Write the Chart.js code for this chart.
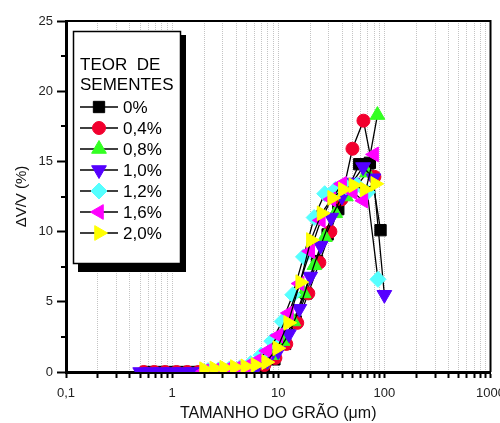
<!DOCTYPE html>
<html>
<head>
<meta charset="utf-8">
<script src="https://cdn.jsdelivr.net/npm/chart.js"></script>
<style>
  html, body { margin: 0; padding: 0; background: #fff; }
  #wrap { width: 500px; height: 423px; }
</style>
</head>
<body>
<div id="wrap"><canvas id="grainChart" width="500" height="423"></canvas></div>
<script>
const seriesNames = ['0%', '0,4%', '0,8%', '1,0%', '1,2%', '1,6%', '2,0%'];

const x0 = [0.58, 0.73, 0.92, 1.16, 1.46, 1.84, 2.3, 2.9, 3.7, 4.6, 5.8, 7.3, 9.2, 11.6, 14.6, 18.4, 23.2, 29.2, 36.8, 46.4, 58, 73, 92];
const y0 = [0, 0, 0, 0, 0, 0, 0, 0, 0, 0.05, 0.15, 0.4, 0.9, 2.0, 3.6, 5.6, 7.9, 9.8, 11.6, 13.2, 14.8, 14.9, 10.1];

const x04 = [0.54, 0.68, 0.86, 1.1, 1.39, 1.77, 2.25, 2.8, 3.6, 4.6, 5.8, 7.4, 9.4, 11.9, 15.1, 19.2, 24.4, 31, 39.4, 50, 63.5, 80.6];
const y04 = [0, 0, 0, 0, 0, 0, 0, 0, 0.05, 0.1, 0.2, 0.5, 1.0, 2.0, 3.5, 5.6, 7.8, 10.0, 12.3, 15.9, 17.9, 13.9];

const x08 = [2.2, 2.8, 3.5, 4.4, 5.6, 7, 8.8, 11, 13.9, 17.4, 21.9, 27.5, 34.5, 43.4, 54.5, 68.5, 86];
const y08 = [0, 0.05, 0.1, 0.15, 0.3, 0.6, 1.2, 2.2, 3.6, 5.6, 7.6, 9.6, 11.3, 12.5, 13.2, 14.2, 18.3];

const x10 = [0.5, 0.63, 0.79, 1.0, 1.26, 1.58, 2.0, 2.5, 3.2, 4, 5, 6.3, 7.9, 10, 12.6, 15.8, 20, 25.1, 31.6, 39.8, 50, 63, 79, 100];
const y10 = [0, 0, 0, 0, 0, 0, 0, 0, 0.05, 0.1, 0.2, 0.4, 0.8, 1.5, 2.7, 4.5, 6.8, 9.0, 11.0, 12.5, 13.5, 14.6, 13.8, 5.5];

const x12 = [2.18, 2.74, 3.45, 4.35, 5.5, 6.9, 8.7, 10.9, 13.7, 17.3, 21.8, 27.4, 34.5, 43.5, 55, 69, 87];
const y12 = [0.1, 0.15, 0.2, 0.3, 0.6, 1.2, 2.2, 3.6, 5.5, 8.2, 11.0, 12.7, 13.0, 13.2, 13.3, 12.8, 6.6];

const x16 = [2.0, 2.5, 3.2, 4, 5, 6.3, 7.9, 10, 12.6, 15.9, 20, 25.2, 31.7, 40, 50.4, 63.5, 80];
const y16 = [0.05, 0.1, 0.15, 0.25, 0.4, 0.8, 1.5, 2.6, 4.2, 6.3, 8.6, 10.8, 12.3, 13.4, 12.8, 12.2, 15.5];

const x20 = [2.0, 2.5, 3.1, 3.9, 4.9, 6.1, 7.7, 9.8, 12.4, 16.1, 20.3, 25.6, 32.2, 40.6, 51, 65, 82];
const y20 = [0.2, 0.25, 0.3, 0.35, 0.4, 0.5, 0.7, 1.7, 3.5, 6.4, 9.4, 11.3, 12.4, 13.0, 13.3, 13.0, 13.4];

const xMajorTicks = [0.1, 1, 10, 100, 1000];
const xTickLabels = ['0,1', '1', '10', '100', '1000'];
const yMajorTicks = [0, 5, 10, 15, 20, 25];

const FONT = "'Liberation Sans', Arial, sans-serif";

const styles = [
  { color: '#000000', pointStyle: 'rect', radius: 8, rotation: 0 },
  { color: '#f2002e', pointStyle: 'circle', radius: 6.5, rotation: 0 },
  { color: '#33ff22', pointStyle: 'triangle', radius: 8.5, rotation: 0 },
  { color: '#5500ff', pointStyle: 'triangle', radius: 8.5, rotation: 180 },
  { color: '#55ffff', pointStyle: 'rectRot', radius: 8, rotation: 0 },
  { color: '#ff00ff', pointStyle: 'triangle', radius: 8.5, rotation: -90 },
  { color: '#ffff00', pointStyle: 'triangle', radius: 8.5, rotation: 90 }
];

const seriesX = [x0, x04, x08, x10, x12, x16, x20];
const seriesY = [y0, y04, y08, y10, y12, y16, y20];

function toPoints(xs, ys) {
  return xs.map((x, i) => ({ x, y: ys[i] }));
}

const datasets = seriesNames.map((name, i) => ({
  label: name,
  data: toPoints(seriesX[i], seriesY[i]),
  borderColor: '#000',
  borderWidth: 1.3,
  tension: 0,
  pointStyle: styles[i].pointStyle,
  pointRadius: styles[i].radius,
  pointRotation: styles[i].rotation,
  pointBackgroundColor: styles[i].color,
  pointBorderColor: styles[i].color,
  pointBorderWidth: 1,
  order: seriesNames.length - 1 - i
}));

function buildLogTicks() {
  const ticks = [];
  xMajorTicks.forEach((m, k) => {
    ticks.push({ value: m, major: true });
    if (k < xMajorTicks.length - 1) {
      for (let s = 2; s <= 9; s++) ticks.push({ value: m * s, major: false });
    }
  });
  return ticks;
}

// frame, minor y ticks and the legend box
const framePlugin = {
  id: 'framePlugin',
  afterDraw(chart) {
    const { ctx, chartArea } = chart;
    const yScale = chart.scales.y;
    ctx.save();
    ctx.strokeStyle = '#000';
    ctx.lineWidth = 2;
    ctx.beginPath();
    ctx.moveTo(chartArea.left, chartArea.top);
    ctx.lineTo(chartArea.right, chartArea.top);
    ctx.lineTo(chartArea.right, chartArea.bottom);
    ctx.stroke();

    // minor y ticks
    for (let v = 2.5; v < 25; v += 5) {
      const py = Math.round(yScale.getPixelForValue(v));
      ctx.beginPath();
      ctx.moveTo(chartArea.left - 5, py);
      ctx.lineTo(chartArea.left, py);
      ctx.stroke();
    }

    // legend
    ctx.fillStyle = '#000';
    ctx.fillRect(78, 35, 108, 237);
    ctx.fillStyle = '#fff';
    ctx.fillRect(73, 31, 108, 233);
    ctx.lineWidth = 1.5;
    ctx.strokeStyle = '#000';
    ctx.strokeRect(73.5, 31.5, 107, 232);

    ctx.fillStyle = '#000';
    ctx.font = '17px ' + FONT;
    ctx.textBaseline = 'middle';
    ctx.textAlign = 'left';
    ctx.fillText('TEOR  DE', 80, 65);
    ctx.fillText('SEMENTES', 80, 85);

    seriesNames.forEach((name, i) => {
      const y = 107 + i * 21;
      ctx.strokeStyle = '#000';
      ctx.lineWidth = 1.3;
      ctx.beginPath();
      ctx.moveTo(80, y);
      ctx.lineTo(118, y);
      ctx.stroke();
      ctx.fillStyle = styles[i].color;
      ctx.strokeStyle = styles[i].color;
      ctx.lineWidth = 1;
      Chart.helpers.drawPoint(ctx, {
        pointStyle: styles[i].pointStyle,
        radius: styles[i].radius,
        rotation: styles[i].rotation,
        borderWidth: 1
      }, 99, y);
      ctx.fillStyle = '#000';
      ctx.fillText(name, 123, y + 1);
    });
    ctx.restore();
  }
};

const ctx = document.getElementById('grainChart').getContext('2d');
new Chart(ctx, {
  type: 'line',
  data: { datasets },
  options: {
    responsive: false,
    animation: false,
    layout: { padding: { left: 0, top: 21, right: 5, bottom: 0 } },
    plugins: {
      legend: { display: false },
      tooltip: { enabled: false }
    },
    scales: {
      x: {
        type: 'logarithmic',
        min: 0.1,
        max: 1000,
        afterBuildTicks: (scale) => { scale.ticks = buildLogTicks(); },
        afterFit: (scale) => {
          scale.height = 51;
          scale.paddingLeft = 0;
          scale.paddingRight = 0;
        },
        ticks: {
          autoSkip: false,
          maxRotation: 0,
          padding: 8,
          color: '#222',
          font: { family: FONT, size: 13 },
          callback: (value) => {
            const k = xMajorTicks.findIndex(m => Math.abs(value - m) / m < 1e-6);
            return k >= 0 ? xTickLabels[k] : '';
          }
        },
        grid: {
          color: '#c4c4c4',
          lineWidth: 1,
          tickLength: 6,
          tickColor: '#000',
          tickWidth: 2
        },
        border: { display: true, color: '#000', width: 3, dash: [1, 1] },
        title: {
          display: true,
          text: 'TAMANHO DO GRÃO (μm)',
          color: '#111',
          font: { family: FONT, size: 16 },
          padding: { top: 0, bottom: 0 }
        }
      },
      y: {
        min: 0,
        max: 25,
        afterBuildTicks: (scale) => { scale.ticks = yMajorTicks.map(v => ({ value: v })); },
        afterFit: (scale) => {
          scale.width = 66;
          scale.paddingTop = 0;
          scale.paddingBottom = 0;
        },
        ticks: {
          padding: 4,
          color: '#222',
          font: { family: FONT, size: 13 },
          callback: (value) => String(value)
        },
        grid: {
          color: 'rgba(0,0,0,0)',
          tickLength: 9,
          tickColor: '#000',
          tickWidth: 2
        },
        border: { display: true, color: '#000', width: 3 },
        title: {
          display: true,
          text: 'ΔV/V (%)',
          color: '#111',
          font: { family: FONT, size: 15 },
          padding: { top: 13, bottom: 0 }
        }
      }
    }
  },
  plugins: [framePlugin]
});
</script>
</body>
</html>
